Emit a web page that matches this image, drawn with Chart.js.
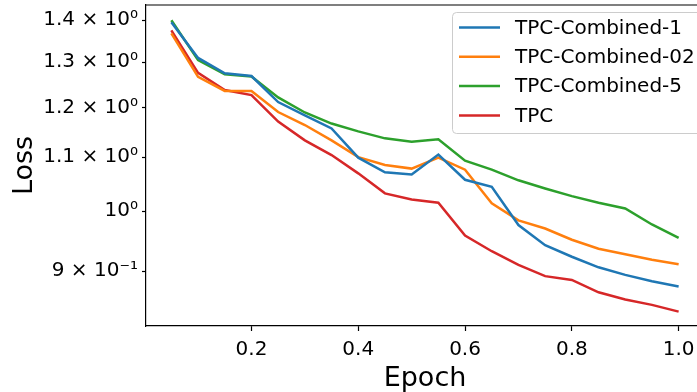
<!DOCTYPE html>
<html>
<head>
<meta charset="utf-8">
<script src="https://cdn.jsdelivr.net/npm/chart.js@4.4.1/dist/chart.umd.min.js"></script>
<style>
html, body { margin: 0; padding: 0; overflow: hidden; background: #fff; }
#wrap { width: 720px; height: 392px; }
</style>
</head>
<body>
<div id="wrap"><canvas id="mychart" width="720" height="392"></canvas></div>
<script>
// values
let epochs = [0.05, 0.10, 0.15, 0.20, 0.25, 0.30, 0.35, 0.40, 0.45, 0.50,
              0.55, 0.60, 0.65, 0.70, 0.75, 0.80, 0.85, 0.90, 0.95, 1.00];
let combined1 = [1.395, 1.310, 1.275, 1.269, 1.212, 1.184, 1.157, 1.099, 1.071, 1.067,
                 1.105, 1.057, 1.044, 0.976, 0.942, 0.923, 0.906, 0.894, 0.884, 0.876];
let combined02 = [1.368, 1.267, 1.236, 1.236, 1.191, 1.164, 1.133, 1.100, 1.085, 1.078,
                  1.099, 1.076, 1.014, 0.984, 0.970, 0.951, 0.936, 0.927, 0.918, 0.911];
let combined5 = [1.400, 1.305, 1.273, 1.268, 1.222, 1.190, 1.167, 1.151, 1.137, 1.130,
                 1.135, 1.093, 1.076, 1.056, 1.041, 1.027, 1.015, 1.005, 0.977, 0.954];
let tpc = [1.375, 1.276, 1.238, 1.227, 1.171, 1.133, 1.104, 1.069, 1.032, 1.021,
           1.015, 0.958, 0.932, 0.910, 0.892, 0.886, 0.867, 0.856, 0.848, 0.838];

let seriesNames = ['TPC-Combined-1', 'TPC-Combined-02', 'TPC-Combined-5', 'TPC'];
let seriesColors = ['#1f77b4', '#ff7f0e', '#2ca02c', '#d62728'];

let xTickValues = [0.2, 0.4, 0.6, 0.8, 1.0];
let xTickLabels = ['0.2', '0.4', '0.6', '0.8', '1.0'];
let yTickValues = [0.9, 1.0, 1.1, 1.2, 1.3, 1.4];
let yTickLabels = ['9 × 10⁻¹', '10⁰', '1.1 × 10⁰', '1.2 × 10⁰', '1.3 × 10⁰', '1.4 × 10⁰'];

const FONT = "'DejaVu Sans', sans-serif";

function toPoints(vals) {
  return vals.map((v, i) => ({ x: epochs[i], y: v }));
}

let allSeries = [combined1, combined02, combined5, tpc];
let datasets = allSeries.map((vals, i) => ({
  label: seriesNames[i],
  data: toPoints(vals),
  borderColor: seriesColors[i],
  backgroundColor: seriesColors[i],
  borderWidth: 2.5,
  pointRadius: 0,
  tension: 0,
  fill: false
}));

// frame on top/right plus matplotlib-like legend box
const frameAndLegend = {
  id: 'frameAndLegend',
  afterDraw(chart) {
    const ctx = chart.ctx;
    const a = chart.chartArea;
    ctx.save();
    ctx.strokeStyle = '#000';
    ctx.lineWidth = 1.2;
    ctx.beginPath();
    ctx.moveTo(a.left, a.top);
    ctx.lineTo(a.right, a.top);
    ctx.lineTo(a.right, a.bottom);
    ctx.stroke();

    let bx = 452.5, by = 12.5, bw = 270, bh = 121, r = 4;
    ctx.beginPath();
    ctx.moveTo(bx + r, by);
    ctx.lineTo(bx + bw - r, by);
    ctx.arcTo(bx + bw, by, bx + bw, by + r, r);
    ctx.lineTo(bx + bw, by + bh - r);
    ctx.arcTo(bx + bw, by + bh, bx + bw - r, by + bh, r);
    ctx.lineTo(bx + r, by + bh);
    ctx.arcTo(bx, by + bh, bx, by + bh - r, r);
    ctx.lineTo(bx, by + r);
    ctx.arcTo(bx, by, bx + r, by, r);
    ctx.closePath();
    ctx.fillStyle = 'rgba(255,255,255,0.8)';
    ctx.fill();
    ctx.strokeStyle = '#cccccc';
    ctx.lineWidth = 1;
    ctx.stroke();

    ctx.font = '20px ' + FONT;
    ctx.textBaseline = 'middle';
    ctx.textAlign = 'left';
    chart.data.datasets.forEach((ds, i) => {
      let y = 27.5 + i * 29.3;
      ctx.strokeStyle = ds.borderColor;
      ctx.lineWidth = 2.5;
      ctx.beginPath();
      ctx.moveTo(459, y);
      ctx.lineTo(500, y);
      ctx.stroke();
      ctx.fillStyle = '#000';
      ctx.fillText(ds.label, 515, y + 1);
    });
    ctx.restore();
  }
};

let mychart = document.getElementById('mychart').getContext('2d');
let obj = new Chart(mychart, {
  type: 'line',
  data: { datasets: datasets },
  options: {
    responsive: false,
    animation: false,
    layout: { padding: { top: 5, right: 16, left: 0, bottom: 0 } },
    plugins: { legend: { display: false }, tooltip: { enabled: false } },
    scales: {
      x: {
        type: 'linear',
        min: 0.0025,
        max: 1.0475,
        afterBuildTicks: s => { s.ticks = xTickValues.map(v => ({ value: v })); },
        afterFit: s => { s.height = 66; s.paddingLeft = 0; s.paddingRight = 0; },
        ticks: {
          color: '#000',
          font: { family: FONT, size: 20 },
          padding: 7,
          maxRotation: 0,
          callback: (v) => xTickLabels[xTickValues.indexOf(v)]
        },
        grid: { drawOnChartArea: false, drawTicks: true, tickLength: 5, tickColor: '#000', tickWidth: 1.2 },
        border: { display: true, color: '#000', width: 1.2 },
        title: { display: true, text: 'Epoch', color: '#000', font: { family: FONT, size: 27 }, padding: { top: 0, bottom: -3 } }
      },
      y: {
        type: 'logarithmic',
        min: 0.817,
        max: 1.438,
        afterBuildTicks: s => { s.ticks = yTickValues.map(v => ({ value: v })); },
        afterFit: s => { s.width = 146; s.paddingTop = 0; s.paddingBottom = 0; },
        ticks: {
          color: '#000',
          font: { family: FONT, size: 20 },
          padding: 4,
          callback: (v) => yTickLabels[yTickValues.indexOf(v)]
        },
        grid: { drawOnChartArea: false, drawTicks: true, tickLength: 4, tickColor: '#000', tickWidth: 1.2 },
        border: { display: true, color: '#000', width: 1.2 },
        title: { display: true, text: 'Loss', color: '#000', font: { family: FONT, size: 27 }, padding: { top: 9, bottom: 0 } }
      }
    }
  },
  plugins: [frameAndLegend]
});
</script>
</body>
</html>
